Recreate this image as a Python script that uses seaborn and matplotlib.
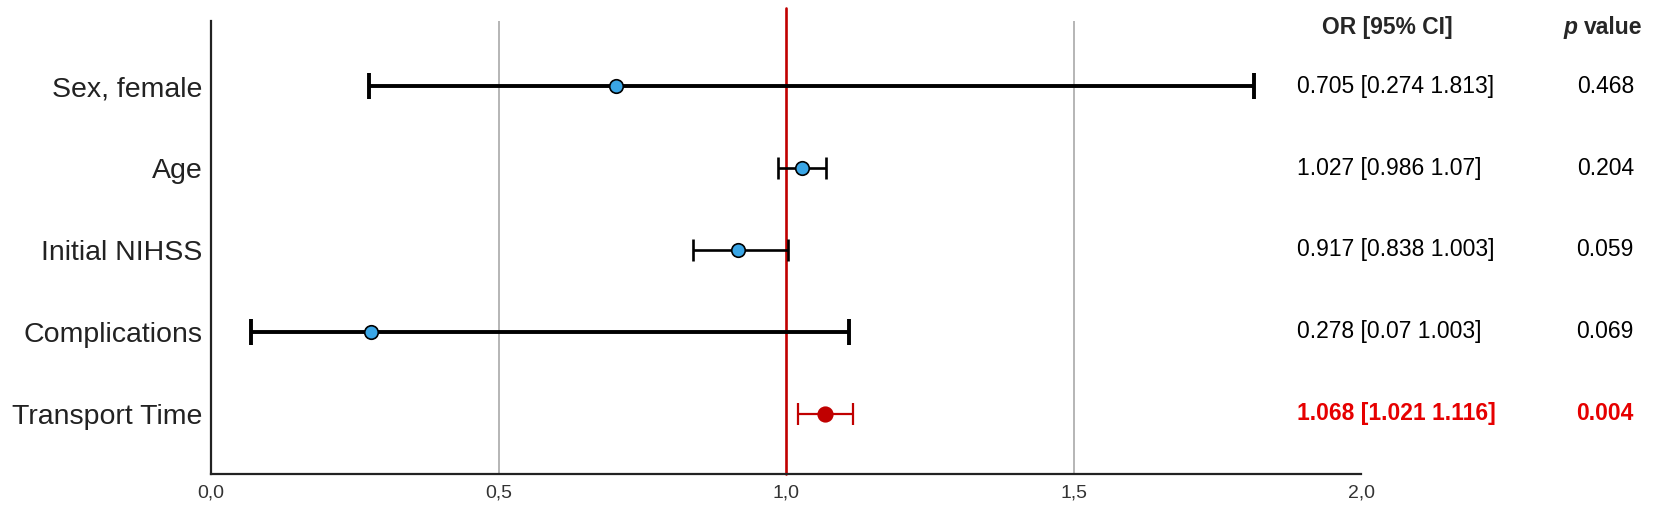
import pandas as pd
import seaborn as sns
import matplotlib.pyplot as plt
import matplotlib.transforms as mtransforms
from matplotlib import font_manager

# dados do grafico (forest plot)
variaveis = ['Sex, female', 'Age', 'Initial NIHSS', 'Complications', 'Transport Time']
odds_ratio = [0.705, 1.027, 0.917, 0.278, 1.068]
ic_inferior = [0.274, 0.986, 0.838, 0.07, 1.021]
ic_superior = [1.813, 1.07, 1.003, 1.11, 1.116]
significativo = [False, False, False, False, True]
texto_ic = ['0.705 [0.274 1.813]', '1.027 [0.986 1.07]', '0.917 [0.838 1.003]',
            '0.278 [0.07 1.003]', '1.068 [1.021 1.116]']
texto_p = ['0.468', '0.204', '0.059', '0.069', '0.004']
ticks_x = [0.0, 0.5, 1.0, 1.5, 2.0]
rotulos_x = ['0,0', '0,5', '1,0', '1,5', '2,0']

dados = pd.DataFrame({'variavel': variaveis, 'OR': odds_ratio,
                      'lo': ic_inferior, 'hi': ic_superior, 'sig': significativo})
dados['pos'] = range(len(dados))

sns.set_style('white')
plt.rcParams['font.family'] = ['Liberation Sans', 'DejaVu Sans']

nomes = {f.name for f in font_manager.fontManager.ttflist}
if 'Liberation Sans Narrow' in nomes:
    fonte_rotulo, tam_rotulo = 'Liberation Sans Narrow', 24.5
else:
    fonte_rotulo, tam_rotulo = 'Liberation Sans', 20.5

vermelho = '#c00000'
azul = '#3aa6e6'

fig = plt.figure(figsize=(16.54, 5.18), dpi=100)
ax = fig.add_axes([0.1276, 0.0857, 0.6953, 0.8738])

# linhas de grade e linha de referencia
for gx in [0.5, 1.5]:
    ax.axvline(gx, color='#b0b0b0', lw=1.3, zorder=0)
ax.axvline(1.0, ymin=0, ymax=1.028, color=vermelho, lw=1.9, zorder=1, clip_on=False)

# intervalos de confianca
espessura = [2.8, 1.9, 1.9, 2.8, 1.6]
capas = [9.4, 7.6, 7.6, 9.4, 7.6]
for i, linha in dados.iterrows():
    cor = vermelho if linha['sig'] else 'black'
    ax.errorbar(linha['OR'], linha['pos'],
                xerr=[[linha['OR'] - linha['lo']], [linha['hi'] - linha['OR']]],
                fmt='none', ecolor=cor, elinewidth=espessura[i],
                capsize=capas[i], capthick=espessura[i], zorder=2)

sns.scatterplot(data=dados[~dados['sig']], x='OR', y='pos', ax=ax, s=95,
                color=azul, edgecolor='black', linewidth=1.2, zorder=3)
sns.scatterplot(data=dados[dados['sig']], x='OR', y='pos', ax=ax, s=110,
                color=vermelho, edgecolor=vermelho, linewidth=1.2, zorder=3)

ax.set_xlim(0, 2.0)
ax.set_ylim(4.735, -0.8)
ax.set_xticks(ticks_x)
ax.set_xticklabels(rotulos_x, fontsize=14, color='#333333')
ax.set_yticks(dados['pos'])
ax.set_yticklabels(variaveis, fontsize=tam_rotulo, family=fonte_rotulo, color='#222222')
ax.tick_params(axis='x', length=0, pad=8)
ax.tick_params(axis='y', length=0, pad=6)
ax.set_xlabel('')
ax.set_ylabel('')

for lado in ['top', 'right']:
    ax.spines[lado].set_visible(False)
for lado in ['left', 'bottom']:
    ax.spines[lado].set_color('#222222')
    ax.spines[lado].set_linewidth(1.6)

# tabela a direita
trans = mtransforms.blended_transform_factory(fig.transFigure, ax.transData)
for i in range(len(dados)):
    sig = significativo[i]
    cor = '#e60000' if sig else 'black'
    peso = 'bold' if sig else 'normal'
    ax.text(0.7842, i, texto_ic[i], transform=trans, ha='left', va='center',
            fontsize=16.5, color=cor, fontweight=peso)
    ax.text(0.9879, i, texto_p[i], transform=trans, ha='right', va='center',
            fontsize=16.5, color=cor, fontweight=peso)

ax.text(0.8386, -0.716, 'OR [95% CI]', transform=trans, ha='center', va='center',
        fontsize=16.5, fontweight='bold')
ax.text(0.9540, -0.716, 'p', transform=trans, ha='right', va='center',
        fontsize=16.5, fontweight='bold', fontstyle='italic')
ax.text(0.9577, -0.716, 'value', transform=trans, ha='left', va='center',
        fontsize=16.5, fontweight='bold')

fig.savefig('out.png', dpi=100)
